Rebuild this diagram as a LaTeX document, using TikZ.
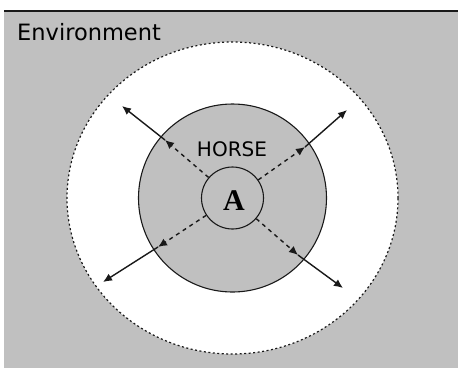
\documentclass[tikz,border=0pt]{standalone}
\usepackage{fontspec}
\newfontfamily\dvsans{DejaVu Sans}
\newfontfamily\tmserif{Liberation Serif}
\usetikzlibrary{arrows.meta,shapes.geometric}
\definecolor{envgray}{RGB}{192,192,192}
\definecolor{linedark}{RGB}{25,25,25}
\tikzset{
  ring/.style={circle,draw=linedark,line width=1.1pt,inner sep=0pt,fill=envgray},
  dasharrow/.style={draw=linedark,line width=1.4pt,dash pattern=on 4pt off 4pt,-{Latex[length=9pt,width=8pt]}},
  solidarrow/.style={draw=linedark,line width=1.4pt,-{Latex[length=9pt,width=8pt]}},
}
\begin{document}
\begin{tikzpicture}[x=1pt,y=-1pt]
\useasboundingbox (0,0) rectangle (458,368);
% environment box
\fill[envgray] (4,11) rectangle (458,368);
\draw[linedark,line width=2pt] (4,11) -- (458,11);
\node[anchor=base west,inner sep=0pt,font=\dvsans\fontsize{22.5}{27}\selectfont] (envlabel) at (17,40) {Environment};
% outer boundary
\node[ellipse,draw=linedark,fill=white,line width=1.2pt,dash pattern=on 2pt off 2.5pt,inner sep=0pt,minimum width=331pt,minimum height=312pt] (outer) at (232.5,198) {};
% horse circle
\node[ring,minimum size=188pt] (horse) at (232.5,198) {};
\node[anchor=base,inner sep=0pt,font=\dvsans\fontsize{20}{24}\selectfont] (horselabel) at (232,156) {HORSE};
% inner circle A
\node[ring,minimum size=62pt] (A) at (232.5,198) {};
\node[anchor=base,inner sep=0pt,font=\tmserif\bfseries\fontsize{30}{36}\selectfont] (Alabel) at (234,210) {A};
% arrow points
\coordinate (m1) at (165,140);
\coordinate (m2) at (305,147);
\coordinate (m3) at (158,247);
\coordinate (m4) at (298,255);
\coordinate (e1) at (122,106);
\coordinate (e2) at (347,110);
\coordinate (e3) at (103,282);
\coordinate (e4) at (343,288);
\foreach \i in {1,2,3,4}{
  \draw[dasharrow] (A) -- (m\i);
  \draw[solidarrow] (m\i) -- (e\i);
}
\end{tikzpicture}
\end{document}
